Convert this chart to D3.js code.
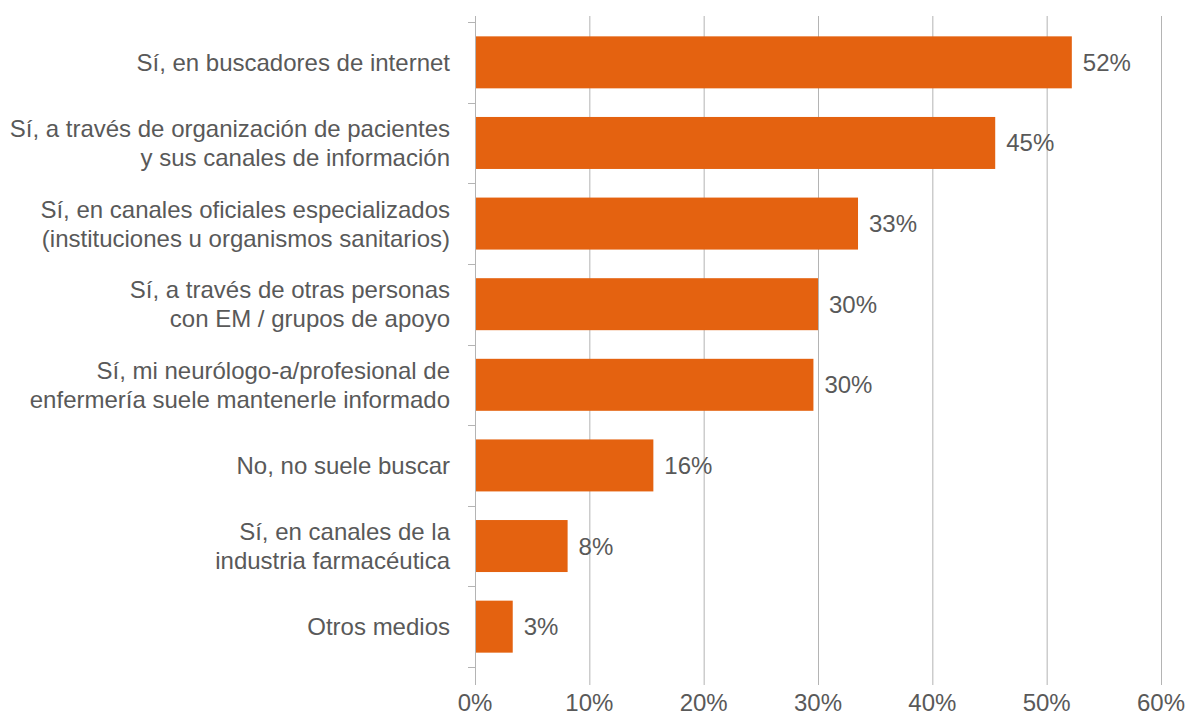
<!DOCTYPE html>
<html><head><meta charset="utf-8">
<script src="https://cdn.jsdelivr.net/npm/d3@7"></script>
<style>body{margin:0;background:#fff}svg{display:block}</style>
</head><body>
<svg id="c" width="1194" height="718"></svg>
<script>
const categories = [
  ["Sí, en buscadores de internet"],
  ["Sí, a través de organización de pacientes", "y sus canales de información"],
  ["Sí, en canales oficiales especializados", "(instituciones u organismos sanitarios)"],
  ["Sí, a través de otras personas", "con EM / grupos de apoyo"],
  ["Sí, mi neurólogo-a/profesional de", "enfermería suele mantenerle informado"],
  ["No, no suele buscar"],
  ["Sí, en canales de la", "industria farmacéutica"],
  ["Otros medios"]
];
const values = [52.2, 45.5, 33.5, 30.0, 29.6, 15.6, 8.1, 3.3];
const valueLabels = ["52%", "45%", "33%", "30%", "30%", "16%", "8%", "3%"];
const xTicks = [0, 10, 20, 30, 40, 50, 60];

const svg = d3.select("#c");
const font = "'Liberation Sans', Arial, sans-serif";
const textColor = "#595959";
const fs = 24;
const x = d3.scaleLinear().domain([0, 60]).range([475, 1161]);
const y = d3.scaleBand().domain(d3.range(categories.length)).range([22, 667]).paddingInner(0.355).paddingOuter(0.178);

// gridlines
svg.append("g").selectAll("line").data(xTicks.slice(1)).join("line")
  .attr("x1", d => x(d) + 0.5).attr("x2", d => x(d) + 0.5)
  .attr("y1", 16).attr("y2", 685)
  .attr("stroke", "#b4b4b4").attr("stroke-width", 1);

// bars
svg.append("g").selectAll("rect").data(values).join("rect")
  .attr("x", x(0)).attr("y", (d, i) => y(i))
  .attr("width", d => x(d) - x(0)).attr("height", y.bandwidth())
  .attr("fill", "#E46210");

// y axis line + ticks
svg.append("line").attr("x1", 475.5).attr("x2", 475.5).attr("y1", 16).attr("y2", 685)
  .attr("stroke", "#b4b4b4");
const bounds = d3.range(categories.length + 1).map(i => 22 + i * (645 / categories.length));
svg.append("g").selectAll("line").data(bounds).join("line")
  .attr("x1", 468).attr("x2", 475).attr("y1", d => Math.round(d) + 0.5).attr("y2", d => Math.round(d) + 0.5)
  .attr("stroke", "#b4b4b4");

// x tick labels
svg.append("g").selectAll("text").data(xTicks).join("text")
  .attr("x", d => x(d)).attr("y", 711)
  .attr("text-anchor", "middle").attr("font-family", font).attr("font-size", fs)
  .attr("fill", textColor).text(d => d + "%");

// category labels
const lh = 29;
svg.append("g").selectAll("text").data(categories).join("text")
  .attr("text-anchor", "end").attr("font-family", font).attr("font-size", fs).attr("fill", textColor)
  .each(function(lines, i) {
    const cy = y(i) + y.bandwidth() / 2;
    const t0 = cy - (lines.length - 1) * lh / 2 + 8.5;
    d3.select(this).selectAll("tspan").data(lines).join("tspan")
      .attr("x", 450).attr("y", (l, j) => t0 + j * lh).text(l => l);
  });

// value labels
svg.append("g").selectAll("text").data(values).join("text")
  .attr("x", d => x(d) + 11).attr("y", (d, i) => y(i) + y.bandwidth() / 2 + 8.5)
  .attr("font-family", font).attr("font-size", fs).attr("fill", textColor)
  .text((d, i) => valueLabels[i]);
</script>
</body></html>
